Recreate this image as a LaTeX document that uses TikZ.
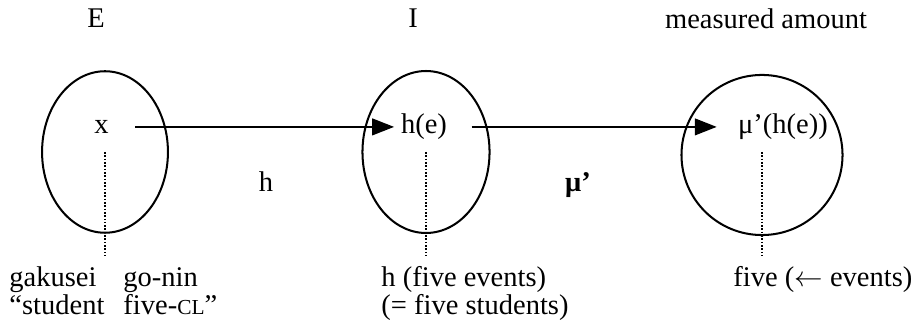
\documentclass[tikz,border=0pt]{standalone}
\usepackage{fontspec}
\setmainfont{Liberation Serif}
\usetikzlibrary{shapes.geometric, arrows.meta}

\begin{document}
\begin{tikzpicture}[
        x=0.421pt, y=-0.421pt,
        font=\fontsize{12}{11}\selectfont,
        set_style/.style={ellipse, draw, line width=0.85pt, inner sep=0pt, minimum width=53pt, minimum height=68pt},
        elem_style/.style={anchor=base, text height=1.3ex, text depth=0pt},
        head_style/.style={anchor=base},
        gloss_style/.style={anchor=base west, inner sep=0pt},
        line/.style={-{Triangle[length=9.2pt, width=7pt]}, line width=0.85pt},
        guide/.style={line width=0.6pt, dash pattern=on 0.7pt off 0.7pt, shorten >=4.5pt}
    ]
    \useasboundingbox (0,0) rectangle (913,328);

    % Mengen
    \node (setE) [set_style] at (105,152) {};
    \node (setI) [set_style, minimum width=53.5pt, minimum height=68.2pt] at (426,152) {};
    \node (setM) [set_style, minimum width=67.8pt, minimum height=67.4pt] at (762,155) {};

    % Überschriften
    \node (headE) [head_style] at (96,28) {E};
    \node (headI) [head_style] at (413,28) {I};
    \node (headM) [head_style] at (766,29) {measured amount};

    % Elemente
    \node (x) [elem_style] at (101.5,134) {x};
    \node (he) [elem_style] at (424,134) {h(e)};
    \node (mhe) [elem_style] at (783,134) {μ’(h(e))};

    % Abbildungen
    \draw [line, shorten <=7.6pt, shorten >=-0.6pt] (x) -- (he);
    \draw [line, shorten <=6.9pt, shorten >=5.5pt] (he) -- (mhe);
    \node (h) [head_style] at (266,192) {h};
    \node (mu) [head_style] at (578,192) {\textbf{μ’}};

    % Erläuterungen
    \node (glossE) [gloss_style] at (9,287) {\begin{tabular}[t]{@{}l@{\hspace{8pt}}l@{}}
        gakusei & go-nin\\
        “student & five-{\fontsize{9}{9}\selectfont CL}”
    \end{tabular}};
    \node (glossI) [gloss_style] at (381,287) {\begin{tabular}[t]{@{}l@{}}
        h (five events)\\
        (= five students)
    \end{tabular}};
    \node (glossM) [gloss_style] at (733,287) {five ($\leftarrow$ events)};

    \draw [guide] (setE.center) -- (setE.center |- glossE.north);
    \draw [guide] (setI.center) -- (setI.center |- glossI.north);
    \draw [guide] (setM.center |- setI.center) -- (setM.center |- glossM.north);

\end{tikzpicture}
\end{document}
